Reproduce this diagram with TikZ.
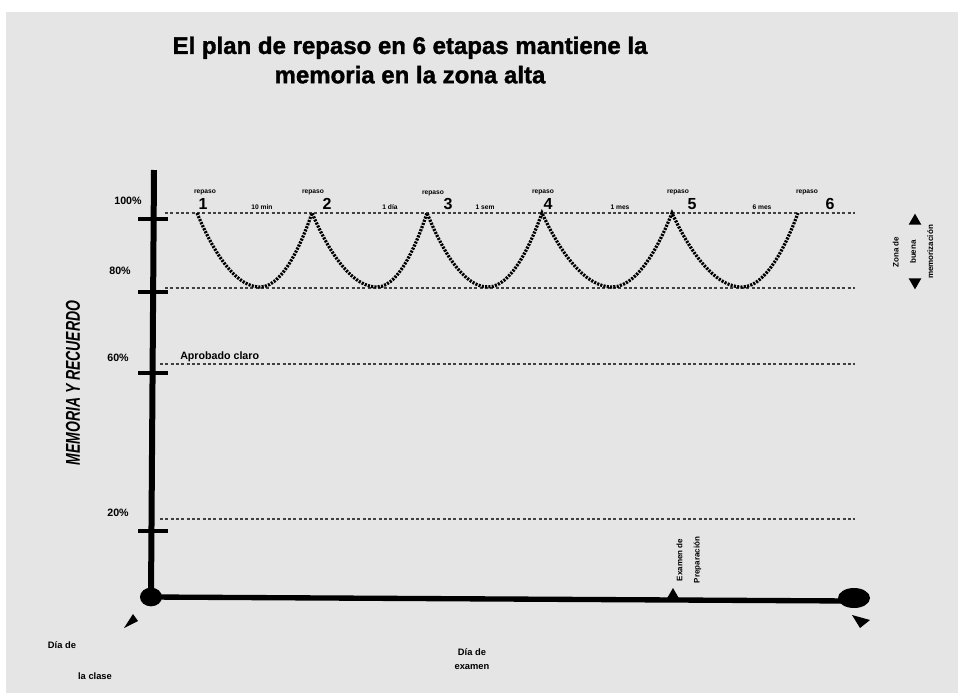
\documentclass[tikz,border=0pt]{standalone}
\usepackage{fontspec}
\setmainfont{Liberation Sans}
\newfontfamily\gruesa[FakeBold=1.5]{Liberation Sans Bold}
\usetikzlibrary{positioning,shapes,arrows}
\definecolor{fondo}{RGB}{229,229,229}

\begin{document}
\begin{tikzpicture}[
	x=0.75pt, y=-0.75pt,
	etiq/.style={font=\bfseries\fontsize{8}{9}\selectfont, inner sep=0pt},
	num/.style={font=\bfseries\fontsize{12}{14}\selectfont, inner sep=0pt},
	mini/.style={font=\bfseries\fontsize{5}{6}\selectfont, inner sep=0pt},
	guia/.style={draw=black!75, line width=1.1pt, dash pattern=on 2.2pt off 1.8pt},
	marca/.style={draw, line width=3pt},
	curva/.style={draw, line width=2.4pt, dash pattern=on 1.6pt off 0.9pt},
	punta/.style={fill, regular polygon, regular polygon sides=3, inner sep=0pt, minimum size=11pt}
	]
	
	\useasboundingbox (0,0) rectangle (958,693);
	\fill[white] (0,0) rectangle (958,693);
	\fill[fondo] (6,12) rectangle (958,693);
	
	% titulo
	\node[font=\gruesa\fontsize{18}{22}\selectfont, align=center] (titulo) at (410,60) {El plan de repaso en 6 etapas mantiene la\\ memoria en la zona alta};
	
	% ejes
	\coordinate (arriba) at (154,170);
	\coordinate (fin) at (850,601);
	\node[fill, ellipse, inner sep=0pt, minimum width=16.5pt, minimum height=14pt] (dclase) at (151,597) {};
	\node[fill, ellipse, inner sep=0pt, minimum width=24pt, minimum height=15pt] (dexamen) at (854,598) {};
	\node[punta, minimum size=12pt] (prep) at (673,596) {};
	\draw[line width=4.5pt] (arriba) -- (dclase.center);
	\draw[line width=4pt] (dclase.center) -- (fin);
	
	\draw[marca] (138,219) -- (168,219);
	\draw[marca] (138,292) -- (168,292);
	\draw[marca] (138,373) -- (168,373);
	\draw[marca] (138,531) -- (168,531);
	
	\node[etiq] (p100) at (128,201) {100\%};
	\node[etiq] (p80)  at (120,271) {80\%};
	\node[etiq] (p60)  at (118,358) {60\%};
	\node[etiq] (p20)  at (118,513) {20\%};
	
	\node[font=\bfseries\itshape\fontsize{15}{18}\selectfont, rotate=90, inner sep=0pt] (memoria) at (73,383) {\scalebox{0.7}[1]{MEMORIA Y RECUERDO}};
	
	% lineas guia
	\draw[guia] (165,213) -- (855,213);
	\draw[guia] (165,288) -- (855,288);
	\draw[guia] (160,364) -- (855,364);
	\draw[guia] (160,519) -- (855,519);
	\node[etiq, anchor=west] (aprobado) at (180,357) {Aprobado claro};
	
	% curva de repaso
	\coordinate (c1) at (197,213);
	\coordinate (c2) at (312,213);
	\coordinate (c3) at (427,213);
	\coordinate (c4) at (542,213);
	\coordinate (c5) at (672,213);
	\coordinate (c6) at (798,213);
	\coordinate (v1) at (260,287);
	\coordinate (v2) at (377,287);
	\coordinate (v3) at (488,287);
	\coordinate (v4) at (612,287);
	\coordinate (v5) at (742,287);
	\draw[curva] (c1) parabola bend (v1) (c2) parabola bend (v2) (c3) parabola bend (v3) (c4) parabola bend (v4) (c5) parabola bend (v5) (c6);
	
	\node[num] (n1) at (203,204) {1};
	\node[num] (n2) at (327,204) {2};
	\node[num] (n3) at (448,204) {3};
	\node[num] (n4) at (548,204) {4};
	\node[num] (n5) at (692,204) {5};
	\node[num] (n6) at (830,204) {6};
	
	\node[mini] (r1) at (205,192) {repaso};
	\node[mini] (r2) at (313,192) {repaso};
	\node[mini] (r3) at (433,193) {repaso};
	\node[mini] (r4) at (543,192) {repaso};
	\node[mini] (r5) at (678,192) {repaso};
	\node[mini] (r6) at (807,192) {repaso};
	
	\node[mini] (e1) at (262,207) {10 min};
	\node[mini] (e2) at (390,207) {1 día};
	\node[mini] (e3) at (485,207) {1 sem};
	\node[mini] (e4) at (620,207) {1 mes};
	\node[mini] (e5) at (762,207) {6 mes};
	
	% zona de buena memorizacion
	\node[punta] (sube) at (915,221) {};
	\node[punta, rotate=180] (baja) at (915,282) {};
	\node[font=\bfseries\fontsize{6}{13}\selectfont, rotate=90, align=center, inner sep=0pt] (zona) at (913,252) {Zona de\\buena\\memorización};
	
	% pie
	\node[font=\bfseries\fontsize{6}{13}\selectfont, rotate=90, align=center, inner sep=0pt] (examen) at (689,560) {Examen de\\Preparación};
	\fill (124,628) -- (133,614) -- (138,621) -- cycle;
	\fill (852,615) -- (870,620) -- (860,628) -- cycle;
	\node[etiq, font=\bfseries\fontsize{7}{9}\selectfont] (dia1) at (62,645) {Día de};
	\node[etiq, font=\bfseries\fontsize{7}{9}\selectfont] (clase) at (95,676) {la clase};
	\node[etiq, font=\bfseries\fontsize{7}{10}\selectfont, align=center] (dia2) at (472,659) {Día de\\examen};
	
\end{tikzpicture}
\end{document}
